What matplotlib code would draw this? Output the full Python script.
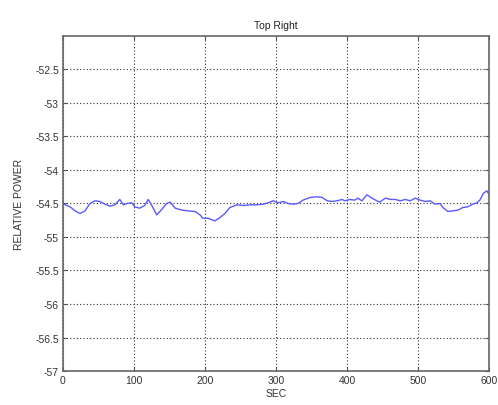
import matplotlib
matplotlib.use("Agg")
import matplotlib.pyplot as plt
from matplotlib.ticker import FixedLocator, FuncFormatter

plt.rcParams['font.family'] = ['Liberation Sans', 'DejaVu Sans']

# Relative power trace over ten minutes
sec = [0, 3, 10, 17, 24, 31, 38, 45, 52, 59, 66, 73, 80, 85, 90, 97, 101, 108,
       115, 120, 125, 132, 139, 146, 151, 158, 168, 176, 186, 193, 197, 204,
       214, 221, 228, 235, 245, 254, 263, 273, 282, 289, 296, 303, 310, 317,
       324, 331, 338, 348, 358, 365, 372, 379, 386, 393, 397, 404, 411, 415,
       421, 428, 435, 442, 446, 454, 461, 468, 475, 482, 489, 496, 503, 510,
       517, 524, 531, 535, 542, 549, 556, 563, 570, 577, 583, 587, 592, 597, 600]
power = [-54.50, -54.52, -54.55, -54.61, -54.65, -54.61, -54.50, -54.46, -54.47,
         -54.51, -54.54, -54.52, -54.44, -54.52, -54.50, -54.49, -54.55, -54.57,
         -54.53, -54.44, -54.53, -54.67, -54.59, -54.50, -54.48, -54.57, -54.60,
         -54.61, -54.62, -54.67, -54.72, -54.72, -54.76, -54.71, -54.65, -54.56,
         -54.52, -54.53, -54.52, -54.52, -54.51, -54.49, -54.46, -54.49, -54.47,
         -54.50, -54.51, -54.50, -54.45, -54.41, -54.40, -54.41, -54.46, -54.47,
         -54.46, -54.44, -54.46, -54.44, -54.45, -54.42, -54.46, -54.37, -54.42,
         -54.46, -54.48, -54.42, -54.44, -54.44, -54.46, -54.44, -54.46, -54.42,
         -54.45, -54.47, -54.46, -54.51, -54.50, -54.56, -54.62, -54.61, -54.60,
         -54.56, -54.55, -54.51, -54.49, -54.45, -54.35, -54.31, -54.37]

x_ticks = [0, 100, 200, 300, 400, 500, 600]
y_ticks = [-57, -56.5, -56, -55.5, -55, -54.5, -54, -53.5, -53, -52.5]

fig = plt.figure(figsize=(4.98, 4.06), dpi=100)
ax = fig.add_axes([0.1265, 0.0837, 0.8555, 0.8253])

ax.plot(sec, power, color='#5a5aff', linewidth=1.0)

ax.set_xlim(0, 600)
ax.set_ylim(-57, -52)
ax.xaxis.set_major_locator(FixedLocator(x_ticks))
ax.yaxis.set_major_locator(FixedLocator(y_ticks))
ax.yaxis.set_major_formatter(FuncFormatter(lambda v, p: f"{v:g}"))

ax.grid(True, color='#333333', linestyle=(0, (1, 2)), linewidth=0.8)
ax.tick_params(direction='in', length=3, width=0.8, colors='#555555',
               labelcolor='#333333', labelsize=7.5, top=True, right=True,
               pad=3)
for s in ax.spines.values():
    s.set_color('#666666')
    s.set_linewidth(1.2)

ax.set_title('Top Right', fontsize=7.5, color='#222222', pad=6)
ax.set_xlabel('SEC', fontsize=7.5, color='#333333', labelpad=2)
ax.set_ylabel('RELATIVE POWER', fontsize=7.5, color='#333333', labelpad=8)

fig.savefig('out.png', dpi=100, facecolor='white')
